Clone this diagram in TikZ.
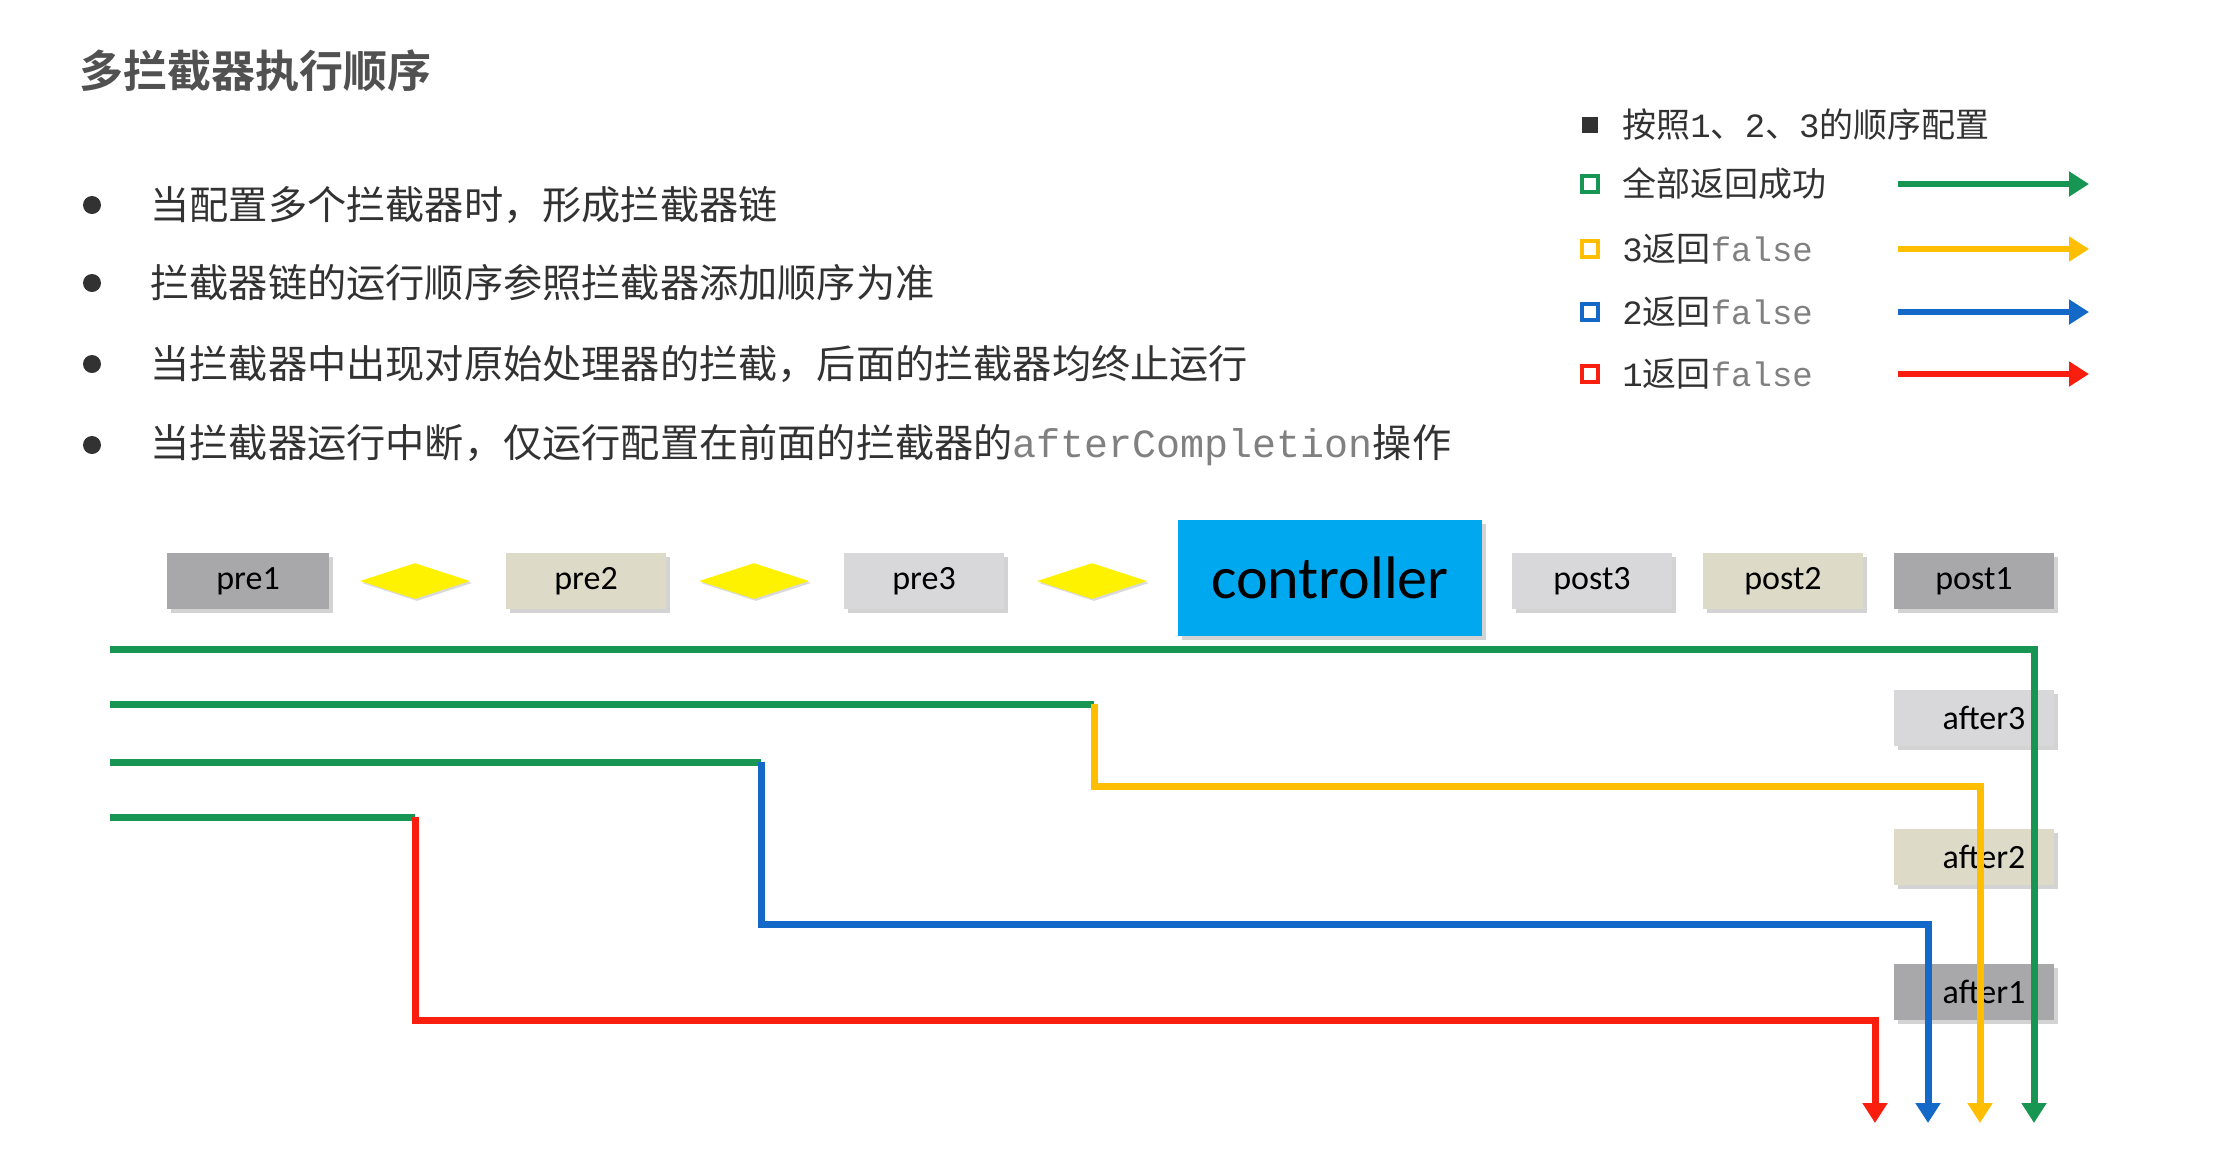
\documentclass[tikz,border=0pt]{standalone}
\usepackage{fontspec}
\setmainfont{Carlito}
\newfontfamily\cjk{Noto Sans CJK SC}
\newfontfamily\cjkb{Noto Sans CJK SC}[BoldFont={* Bold}]
\newfontfamily\mono{Liberation Mono}
\usetikzlibrary{shapes.geometric,shadows,arrows.meta}
\definecolor{cg}{RGB}{22,150,82}
\definecolor{cy}{RGB}{255,190,0}
\definecolor{cb}{RGB}{20,105,200}
\definecolor{cr}{RGB}{250,30,15}
\definecolor{g1}{RGB}{168,168,170}
\definecolor{g2}{RGB}{222,218,200}
\definecolor{g3}{RGB}{216,216,218}
\definecolor{ctl}{RGB}{0,168,240}
\definecolor{txt}{RGB}{50,50,50}
\tikzset{
 box/.style={draw=none,minimum width=80pt,minimum height=28pt,inner sep=0pt,font=\fontsize{17}{17}\selectfont,drop shadow={shadow xshift=2pt,shadow yshift=-2pt,opacity=0.35}},
 dia/.style={diamond,fill=yellow,aspect=2.2,minimum width=55pt,minimum height=18pt,inner sep=0pt,drop shadow={shadow xshift=1pt,shadow yshift=-1pt,opacity=0.3}},
 ln/.style={line width=3.5pt},
 arr/.style={line width=3.5pt,-{Triangle[length=10pt,width=12pt]}},
 bul/.style={anchor=west,font=\cjk\fontsize{19.6}{19.6}\selectfont,text=txt,inner sep=0pt},
 leg/.style={anchor=west,font=\cjk\fontsize{17}{17}\selectfont,text=txt,inner sep=0pt},
 sq/.style={draw=#1,line width=1.8pt,minimum size=8pt,inner sep=0pt}
}
\begin{document}
\begin{tikzpicture}[x=0.5pt,y=-0.5pt]
\useasboundingbox (0,0) rectangle (2221,1148);
\node[anchor=west,font=\cjkb\bfseries\fontsize{22}{22}\selectfont,text=txt!85,inner sep=0pt] (title) at (79,71) {多拦截器执行顺序};
\foreach \y/\t [count=\i] in {205/{当配置多个拦截器时，形成拦截器链},283/{拦截器链的运行顺序参照拦截器添加顺序为准},364/{当拦截器中出现对原始处理器的拦截，后面的拦截器均终止运行},445/{当拦截器运行中断，仅运行配置在前面的拦截器的{\mono\fontsize{20}{20}\selectfont\color{gray}afterCompletion}操作}}{
 \node[circle,fill=txt,minimum size=9pt,inner sep=0pt] (d\i) at (92,\y) {};
 \node[bul] (b\i) at (150,\y) {\t};
}
% legend
\node[fill=txt,minimum size=8pt,inner sep=0pt] (s0) at (1590,125) {};
\node[leg] (l0) at (1622,125) {按照{\mono 1}、{\mono 2}、{\mono 3}的顺序配置};
\foreach \y/\c/\t [count=\i] in {184/cg/{全部返回成功},249/cy/{{\mono 3}返回{\mono\color{gray}false}},312/cb/{{\mono 2}返回{\mono\color{gray}false}},374/cr/{{\mono 1}返回{\mono\color{gray}false}}}{
 \node[sq=\c] (s\i) at (1590,\y) {};
 \node[leg] (l\i) at (1622,\y) {\t};
 \coordinate (la\i) at (1898,\y); \coordinate (lb\i) at (2089,\y);
 \draw[arr,\c,line width=3pt,drop shadow={opacity=0.25}] (la\i) -- (lb\i);
}
% boxes
\node[box,fill=g1,minimum width=81pt] (pre1) at (248,581) {pre1};
\node[dia] (d1x) at (415,581) {};
\node[box,fill=g2] (pre2) at (586,581) {pre2};
\node[dia] (d2x) at (754,581) {};
\node[box,fill=g3] (pre3) at (924,581) {pre3};
\node[dia] (d3x) at (1092,581) {};
\node[box,fill=ctl,minimum width=152pt,minimum height=58pt,font=\fontsize{30}{30}\selectfont] (ctrl) at (1330,578) {controller};
\node[box,fill=g3] (post3) at (1592,581) {post3};
\node[box,fill=g2] (post2) at (1783,581) {post2};
\node[box,fill=g1] (post1) at (1974,581) {post1};
\node[box,fill=g3] (after3) at (1974,718) {\hspace*{10pt}after3};
\node[box,fill=g2] (after2) at (1974,857) {\hspace*{10pt}after2};
\node[box,fill=g1] (after1) at (1974,992) {\hspace*{10pt}after1};
% paths
\coordinate (a0) at (110,649); \coordinate (a1) at (2034,649); \coordinate (a2) at (2034,1123);
\draw[arr,cg] (a0) -- (a1) -- (a2);
\coordinate (b0) at (110,704); \coordinate (b1) at (1094,704); \coordinate (b2) at (1094,786); \coordinate (b3) at (1980,786); \coordinate (b4) at (1980,1123);
\draw[ln,cg] (b0) -- (b1);
\draw[arr,cy] (b1) -- (b2) -- (b3) -- (b4);
\coordinate (c0) at (110,762); \coordinate (c1) at (761,762); \coordinate (c2) at (761,924); \coordinate (c3) at (1928,924); \coordinate (c4) at (1928,1123);
\draw[ln,cg] (c0) -- (c1);
\draw[arr,cb] (c1) -- (c2) -- (c3) -- (c4);
\coordinate (e0) at (110,817); \coordinate (e1) at (415,817); \coordinate (e2) at (415,1020); \coordinate (e3) at (1875,1020); \coordinate (e4) at (1875,1123);
\draw[ln,cg] (e0) -- (e1);
\draw[arr,cr] (e1) -- (e2) -- (e3) -- (e4);
\end{tikzpicture}
\end{document}
